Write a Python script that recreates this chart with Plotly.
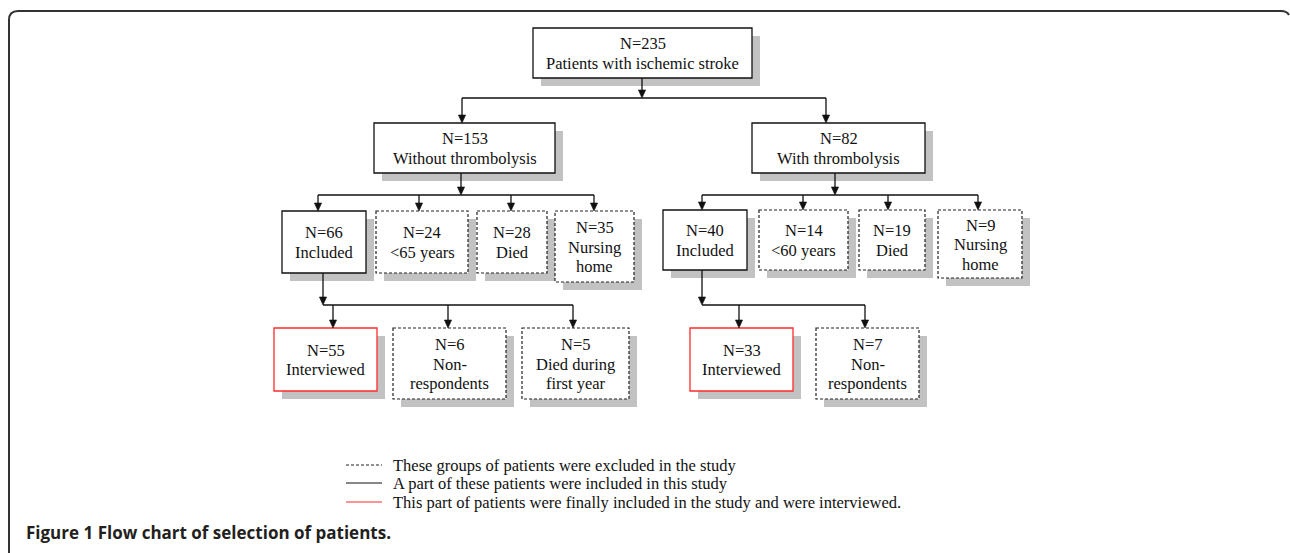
import plotly.graph_objects as go

# ---------------- data ----------------
counts = [235, 153, 82, 66, 24, 28, 35, 40, 14, 19, 9, 55, 6, 5, 33, 7]
descriptions = [
    "Patients with ischemic stroke", "Without thrombolysis", "With thrombolysis",
    "Included", "&lt;65 years", "Died", "Nursing<br>home",
    "Included", "&lt;60 years", "Died", "Nursing<br>home",
    "Interviewed", "Non-<br>respondents", "Died during<br>first year",
    "Interviewed", "Non-<br>respondents",
]
status = ["part", "part", "part",
          "part", "excluded", "excluded", "excluded",
          "part", "excluded", "excluded", "excluded",
          "interviewed", "excluded", "excluded",
          "interviewed", "excluded"]
parents = [None, 0, 0, 1, 1, 1, 1, 2, 2, 2, 2, 3, 3, 3, 7, 7]

legend_labels = [
    "These groups of patients were excluded in the study",
    "A part of these patients were included in this study",
    "This part of patients were finally included in the study and were interviewed.",
]
legend_status = ["excluded", "part", "interviewed"]
caption_bold = "Figure 1"
caption_rest = "Flow chart of selection of patients."

# ---------------- layout (pixel positions) ----------------
W, H = 1290, 553
box_x0 = [533, 374, 752, 282, 376, 477, 555, 663, 759, 859, 938, 274, 393, 522, 690, 816]
box_x1 = [752, 555, 925, 366, 468, 547, 634, 747, 848, 925, 1022, 377, 506, 629, 793, 919]
box_y0 = [28, 123, 123, 211, 211, 211, 211, 210, 210, 210, 210, 328, 328, 328, 328, 328]
box_y1 = [78, 173, 173, 273, 273, 273, 282, 270, 270, 270, 278, 391, 399, 399, 391, 399]
arrow_in_x = [None, 462, 826, 318, 419, 511, 594, 702, 803, 888, 978, 333, 448, 573, 739, 865]
stem_x = {0: 642, 1: 461, 2: 835, 3: 323, 7: 702}
bus_y = {0: 98, 1: 195, 2: 195, 3: 305, 7: 305}

styles = {
    "excluded": dict(color="#222222", width=1.2, dash="3px,2px"),
    "part": dict(color="#111111", width=1.3, dash="solid"),
    "interviewed": dict(color="#ff2a2a", width=1.3, dash="solid"),
}
SHADOW = "#c2c2c2"
OFF = 8
FONT_SERIF = "Liberation Serif, Times New Roman, serif"
TXT = 16.5
LINE_GAP = 19.5

shapes = []
annotations = []

def line(x0, y0, x1, y1, color="#111111", width=1.3, dash="solid"):
    shapes.append(dict(type="line", x0=x0, y0=y0, x1=x1, y1=y1, xref="x", yref="y",
                       line=dict(color=color, width=width, dash=dash)))

def arrow_down(x, y0, y1):
    line(x, y0, x, y1 - 6)
    shapes.append(dict(type="path", xref="x", yref="y",
                       path=f"M {x-3.6},{y1-8} L {x+3.6},{y1-8} L {x},{y1} Z",
                       fillcolor="#111111", line=dict(color="#111111", width=0.6)))

# frame
shapes.append(dict(type="path", xref="x", yref="y",
                   path="M 9,560 L 9,20 Q 9,11 18,11 L 1281,11 Q 1287,11 1289,15",
                   line=dict(color="#333333", width=2)))

# boxes
for i in range(len(counts)):
    x0, x1, y0, y1 = box_x0[i], box_x1[i], box_y0[i], box_y1[i]
    shapes.append(dict(type="rect", xref="x", yref="y", x0=x0 + OFF, x1=x1 + OFF,
                       y0=y0 + OFF, y1=y1 + OFF, fillcolor=SHADOW, line=dict(width=0), layer="below"))
    shapes.append(dict(type="rect", xref="x", yref="y", x0=x0, x1=x1, y0=y0, y1=y1,
                       fillcolor="white", line=styles[status[i]]))
    lines = [f"N={counts[i]}"] + descriptions[i].split("<br>")
    cy = (y0 + y1) / 2 + 0.5
    n = len(lines)
    for j, t in enumerate(lines):
        annotations.append(dict(x=(x0 + x1) / 2, y=cy + (j - (n - 1) / 2) * LINE_GAP,
                                xref="x", yref="y", text=t, showarrow=False,
                                font=dict(family=FONT_SERIF, size=TXT, color="#111111"),
                                xanchor="center", yanchor="middle"))

# connectors
for p in sorted(set(q for q in parents if q is not None)):
    kids = [i for i, q in enumerate(parents) if q == p]
    sx, by = stem_x[p], bus_y[p]
    arrow_down(sx, box_y1[p], by)
    xs = [arrow_in_x[k] for k in kids] + [sx]
    line(min(xs), by, max(xs), by)
    for k in kids:
        arrow_down(arrow_in_x[k], by, box_y0[k])

# legend
leg_y = [465, 483, 502]
for lab, st, y in zip(legend_labels, legend_status, leg_y):
    s = styles[st]
    line(346, y, 382, y, color=s["color"], width=1.2, dash=s["dash"])
    annotations.append(dict(x=391, y=y, xref="x", yref="y", text=lab, showarrow=False,
                            xanchor="left", yanchor="middle",
                            font=dict(family=FONT_SERIF, size=TXT, color="#111111")))

# caption
annotations.append(dict(x=24, y=532, xref="x", yref="y",
                        text=f"<b>{caption_bold}</b> <b>{caption_rest}</b>", showarrow=False,
                        xanchor="left", yanchor="middle",
                        font=dict(family="Open Sans, sans-serif", size=17, color="#231f20")))

fig = go.Figure()
fig.update_layout(
    width=W, height=H, margin=dict(l=0, r=0, t=0, b=0),
    paper_bgcolor="white", plot_bgcolor="white",
    shapes=shapes, annotations=annotations, showlegend=False,
    xaxis=dict(range=[0, W], visible=False, fixedrange=True),
    yaxis=dict(range=[H, 0], visible=False, fixedrange=True),
)
fig.write_html("out.html", config={"displayModeBar": False, "staticPlot": True},
               post_script="document.body.style.margin='0';document.body.style.overflow='hidden';")
